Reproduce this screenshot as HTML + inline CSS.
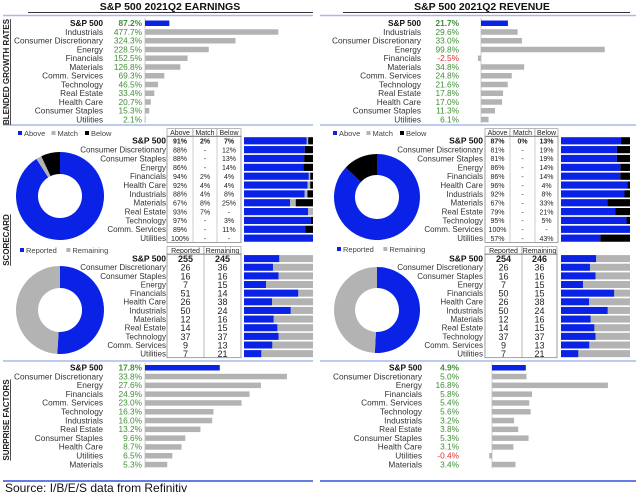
<!DOCTYPE html>
<html><head><meta charset="utf-8"><style>
html,body{margin:0;padding:0;background:#fff}
svg{display:block;font-family:"Liberation Sans",sans-serif}
</style></head><body>
<svg id="c" width="640" height="498" viewBox="0 0 640 498"></svg>
<script>
const growthCatsE=["S&P 500","Industrials","Consumer Discretionary","Energy","Financials","Materials","Comm. Services","Technology","Real Estate","Health Care","Consumer Staples","Utilities"];
const growthValsE=[87.2,477.7,324.3,228.5,152.5,126.8,69.3,46.5,33.4,20.7,15.3,2.1];
const growthCatsR=["S&P 500","Industrials","Consumer Discretionary","Energy","Financials","Materials","Comm. Services","Technology","Real Estate","Health Care","Consumer Staples","Utilities"];
const growthValsR=[21.7,29.6,33.0,99.8,-2.5,34.8,24.8,21.6,17.8,17.0,11.3,6.1];
const scoreCats=["S&P 500","Consumer Discretionary","Consumer Staples","Energy","Financials","Health Care","Industrials","Materials","Real Estate","Technology","Comm. Services","Utilities"];
const aboveE=[91,88,88,86,94,92,88,67,93,97,89,100];
const matchE=[2,0,0,0,2,4,4,8,7,0,0,0];
const belowE=[7,12,13,14,4,4,8,25,0,3,11,0];
const aboveR=[87,81,81,86,86,96,92,67,79,95,100,57];
const matchR=[0,0,0,0,0,0,0,0,0,0,0,0];
const belowR=[13,19,19,14,14,4,8,33,21,5,0,43];
const reportedE=[255,26,16,7,51,26,50,12,14,37,9,7];
const remainingE=[245,36,16,15,14,38,24,16,15,37,13,21];
const reportedR=[254,26,16,7,50,26,50,12,14,37,9,7];
const remainingR=[246,36,16,15,15,38,24,16,15,37,13,21];
const surpCatsE=["S&P 500","Consumer Discretionary","Energy","Financials","Comm. Services","Technology","Industrials","Real Estate","Consumer Staples","Health Care","Utilities","Materials"];
const surpValsE=[17.8,33.8,27.6,24.9,23.0,16.3,16.0,13.2,9.6,8.7,6.5,5.3];
const surpCatsR=["S&P 500","Consumer Discretionary","Energy","Financials","Comm. Services","Technology","Industrials","Real Estate","Consumer Staples","Health Care","Utilities","Materials"];
const surpValsR=[4.9,5.0,16.8,5.8,5.4,5.6,3.2,3.8,5.3,3.1,-0.4,3.4];

const S=document.getElementById('c');const NS="http://www.w3.org/2000/svg";
const BLUE="#0a22e6",GRAY="#b3b3b3",GREEN="#3f8f35",RED="#e03030";
function el(t,a,name,txt){const e=document.createElementNS(NS,t);for(const k in a)e.setAttribute(k,a[k]);


if(txt!==undefined)e.textContent=txt;S.appendChild(e);return e;}
function txt(x,y,s,name,o){o=o||{};return el('text',{x:x,y:y,'font-size':o.fs||8.3,fill:o.fill||'#222','text-anchor':o.anchor||'end','font-weight':o.bold?'bold':'normal'},name,s);}

// titles
txt(170,10,"S&P 500 2021Q2 EARNINGS","earnings-title",{anchor:'middle',fs:10.5,bold:1,fill:'#111'});
txt(482,10,"S&P 500 2021Q2 REVENUE","revenue-title",{anchor:'middle',fs:10.5,bold:1,fill:'#111'});
el('line',{x1:28,y1:12.5,x2:313,y2:12.5,stroke:'#333','stroke-width':1},'earnings-title-underline');
el('line',{x1:343,y1:12.5,x2:630,y2:12.5,stroke:'#333','stroke-width':1},'revenue-title-underline');
[[15.5,'#aab8ea',1.5],[125,'#aab8ea',1.5],[361,'#aab8ea',1.5],[481,'#3550d8',1.5]].forEach((l,i)=>{
el('line',{x1:3,y1:l[0],x2:313,y2:l[0],stroke:l[1],'stroke-width':l[2]},'section-divider-left');
el('line',{x1:320,y1:l[0],x2:636,y2:l[0],stroke:l[1],'stroke-width':l[2]},'section-divider-right');});
function vlabel(x,y,s,name){const t=txt(x,y,s,name,{anchor:'middle',fs:8,bold:1,fill:'#222'});t.setAttribute('transform','rotate(-90 '+x+' '+y+')');t.setAttribute('text-decoration','underline');}
vlabel(9,72,"BLENDED GROWTH RATES","growth-section-label");
vlabel(9,240,"SCORECARD","scorecard-section-label");
vlabel(9,420,"SURPRISE FACTORS","surprise-section-label");

function hbars(cats,vals,y0,dy,labX,valX,zero,scale,pre){
 el('line',{x1:zero,y1:y0-5,x2:zero,y2:y0+dy*(cats.length-1)+4,stroke:'#bbb','stroke-width':0.7},pre+'-axis');
 cats.forEach((c,i)=>{const y=y0+dy*i;
  txt(labX,y+3,c,pre+'-label',{bold:i==0,fill:i==0?'#111':'#333'});
  const v=vals[i];txt(valX,y+3,v.toFixed(1)+'%',pre+'-value',{fill:v<0?RED:GREEN,bold:i==0});
  const w=v*scale;el('rect',{x:w<0?zero+w:zero,y:y-2.5,width:Math.abs(w),height:5.5,fill:i==0?BLUE:GRAY},pre+'-bar');});
}
hbars(growthCatsE,growthValsE,23,8.75,103,142,145,0.279,'earnings-growth');
hbars(growthCatsR,growthValsR,23,8.75,421,459,481,1.24,'revenue-growth');
hbars(surpCatsE,surpValsE,367.5,8.8,103,142,145,4.2,'earnings-surprise');
hbars(surpCatsR,surpValsR,367.5,8.8,422,459,492,6.9,'revenue-surprise');

function arc(cx,cy,r,ri,a0,a1,fill,name){if(a1-a0<=0)return;if(a1-a0>=0.9999){a1=a0+0.9999;}
 const p=(a,rr)=>[cx+rr*Math.sin(a*2*Math.PI),cy-rr*Math.cos(a*2*Math.PI)];const lg=(a1-a0)>0.5?1:0;
 const A=p(a0,r),B=p(a1,r),C=p(a1,ri),D=p(a0,ri);
 el('path',{d:`M${A}A${r},${r} 0 ${lg} 1 ${B}L${C}A${ri},${ri} 0 ${lg} 0 ${D}Z`,fill:fill},name);}
function donut(cx,cy,r,ri,parts,cols,pre){const t=parts.reduce((a,b)=>a+b,0);let a=0;parts.forEach((p,i)=>{arc(cx,cy,r,ri,a,a+p/t,cols[i],pre+'-slice');a+=p/t;});}
function legend(x,y,items,pre){let cx=x;items.forEach(it=>{el('rect',{x:cx,y:y-5,width:4,height:4,fill:it[1]},pre+'-legend-swatch');const t=txt(cx+6,y,it[0],pre+'-legend-entry',{anchor:'start',fs:7.5,fill:'#444'});cx+=it[0].length*4.3+12;});}

function scoreTable(cols,labX,barX0,barX1,y0,dy,pre,a,m,b){
 const hy=y0-11;
 const heads=["Above","Match","Below"];
 heads.forEach((h,j)=>{el('rect',{x:cols[j],y:hy-1,width:cols[j+1]-cols[j],height:8,fill:'#fff',stroke:'#888','stroke-width':0.6},pre+'-header-cell');
   txt((cols[j]+cols[j+1])/2,hy+5.5,h,pre+'-header',{anchor:'middle',fs:7});});
 el('rect',{x:cols[0],y:y0-4.5,width:cols[3]-cols[0],height:dy*12,fill:'none',stroke:'#888','stroke-width':0.8},pre+'-table-border');
 scoreCats.forEach((c,i)=>{const y=y0+dy*i;
  txt(labX,y+3,c,pre+'-label',{bold:i==0,fs:i==0?8.5:8,fill:i==0?'#111':'#333'});
  [a[i],m[i],b[i]].forEach((v,j)=>{el('line',{x1:cols[j],y1:y-4.5,x2:cols[j],y2:y+4.2,stroke:'#999','stroke-width':0.5},pre+'-grid');
    txt((cols[j]+cols[j+1])/2,y+2.8,(v||i==0)?v+'%':'-',pre+'-cell',{anchor:'middle',fs:7,bold:i==0});});
  const W=barX1-barX0,t=a[i]+m[i]+b[i];let x=barX0;
  [[a[i],BLUE],[m[i],GRAY],[b[i],'#000']].forEach(s=>{const w=s[0]/t*W;if(w>0)el('rect',{x:x,y:y-3.5,width:w,height:7.2,fill:s[1]},pre+'-bar-seg');x+=w;});
 });
}
function repTable(cols,labX,barX0,barX1,y0,dy,pre,rp,rm){
 const hy=y0-11;["Reported","Remaining"].forEach((h,j)=>{el('rect',{x:cols[j],y:hy-1,width:cols[j+1]-cols[j],height:8,fill:'#fff',stroke:'#888','stroke-width':0.6},pre+'-header-cell');
  txt((cols[j]+cols[j+1])/2,hy+5.5,h,pre+'-header',{anchor:'middle',fs:7});});
 el('rect',{x:cols[0],y:y0-4.5,width:cols[2]-cols[0],height:dy*12,fill:'none',stroke:'#888','stroke-width':0.8},pre+'-table-border');
 el('line',{x1:cols[1],y1:y0-4.5,x2:cols[1],y2:y0-4.5+dy*12,stroke:'#888','stroke-width':0.6},pre+'-grid');
 scoreCats.forEach((c,i)=>{const y=y0+dy*i;
  txt(labX,y+3,c,pre+'-label',{bold:i==0,fs:i==0?8.5:8,fill:i==0?'#111':'#333'});
  txt((cols[0]+cols[1])/2,y+3.5,String(rp[i]),pre+'-cell',{anchor:'middle',fs:9,bold:i==0});
  txt((cols[1]+cols[2])/2,y+3.5,String(rm[i]),pre+'-cell',{anchor:'middle',fs:9,bold:i==0});
  const W=barX1-barX0,f=rp[i]/(rp[i]+rm[i]);
  el('rect',{x:barX0,y:y-3.4,width:W,height:7,fill:GRAY},pre+'-bar-bg');
  el('rect',{x:barX0,y:y-3.4,width:W*f,height:7,fill:BLUE},pre+'-bar-reported');});
}
// scorecard
legend(18,136,[["Above",BLUE],["Match",GRAY],["Below","#000"]],'earnings-score');
legend(333,136,[["Above",BLUE],["Match",GRAY],["Below","#000"]],'revenue-score');
donut(60,196,44,22,[aboveE[0],matchE[0],belowE[0]],[BLUE,GRAY,'#000'],'earnings-score-donut');
donut(377,197,43,22,[aboveR[0],matchR[0],belowR[0]],[BLUE,GRAY,'#000'],'revenue-score-donut');
scoreTable([167,193,217,241],166,244,313,140.7,8.85,'earnings-score',aboveE,matchE,belowE);
scoreTable([485,510,535,558],483,561,630,140.7,8.85,'revenue-score',aboveR,matchR,belowR);
// reported
legend(20,253,[["Reported",BLUE],["Remaining",GRAY]],'earnings-reported');
legend(337,252,[["Reported",BLUE],["Remaining",GRAY]],'revenue-reported');
donut(60,310,44,22,[reportedE[0],remainingE[0]],[BLUE,GRAY],'earnings-reported-donut');
donut(377,310,43,22,[reportedR[0],remainingR[0]],[BLUE,GRAY],'revenue-reported-donut');
repTable([167,204,241],166,244,313,258.5,8.64,'earnings-reported',reportedE,remainingE);
repTable([485,522,557],483,561,630,258.5,8.64,'revenue-reported',reportedR,remainingR);

txt(5,492,"Source: I/B/E/S data from Refinitiv","source-note",{anchor:'start',fs:12,fill:'#111'});
</script>
</body></html>
